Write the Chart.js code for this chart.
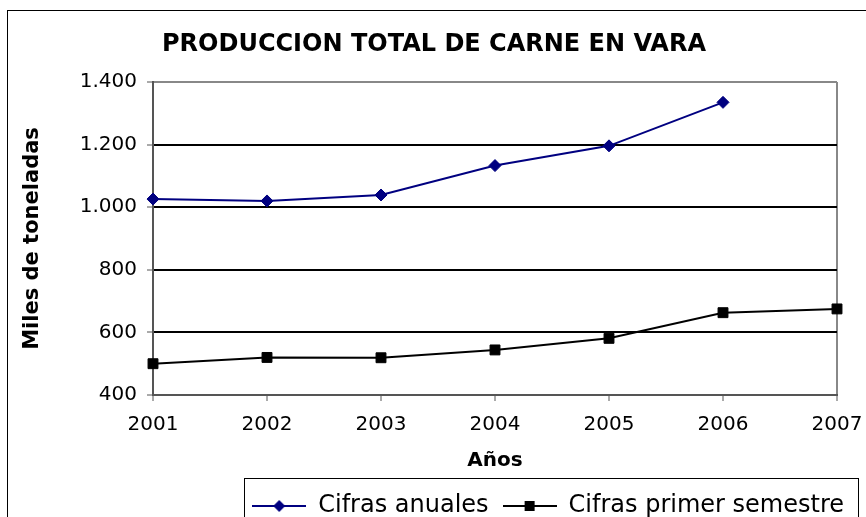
<!DOCTYPE html>
<html>
<head>
<meta charset="utf-8">
<script src="https://cdn.jsdelivr.net/npm/chart.js@4.4.0/dist/chart.umd.min.js"></script>
<style>
  html, body { margin: 0; padding: 0; background: #fff; }
  canvas { display: block; }
</style>
</head>
<body>
<canvas id="carneChart" width="866" height="517"></canvas>
<script>
// data (miles de toneladas)
var years = ['2001', '2002', '2003', '2004', '2005', '2006', '2007'];
var cifrasAnuales = [1026, 1020, 1039, 1133, 1196, 1335, null];
var cifrasSemestre = [500, 520, 519, 544, 581, 663, 675];
var yMin = 400, yMax = 1400, yStep = 200;

Chart.defaults.font.family = '"DejaVu Sans", Verdana, sans-serif';
Chart.defaults.color = '#000';

// legend icons: line with the marker in the middle, like Excel
function legendIcon(color, shape) {
  var c = document.createElement('canvas');
  c.width = 54; c.height = 14;
  var g = c.getContext('2d');
  g.strokeStyle = color;
  g.fillStyle = color;
  g.lineWidth = 2;
  g.beginPath(); g.moveTo(0, 7); g.lineTo(54, 7); g.stroke();
  g.beginPath();
  if (shape === 'diamond') {
    g.moveTo(27, 1); g.lineTo(33, 7); g.lineTo(27, 13); g.lineTo(21, 7);
  } else {
    g.rect(22, 2, 10, 10);
  }
  g.closePath(); g.fill();
  return c;
}
var legendIcons = [legendIcon('#000080', 'diamond'), legendIcon('#000', 'square')];

var framePlugin = {
  id: 'frame',
  beforeDraw: function (chart) {
    var ctx = chart.ctx;
    ctx.save();
    ctx.fillStyle = '#fff';
    ctx.fillRect(0, 0, chart.width, chart.height);
    ctx.strokeStyle = '#000';
    ctx.lineWidth = 1;
    ctx.strokeRect(7.5, 10.5, chart.width + 20, chart.height + 20);
    ctx.restore();
  },
  afterDraw: function (chart) {
    var lg = chart.legend;
    var hb = lg.legendHitBoxes;
    if (!hb || !hb.length) return;
    var ctx = chart.ctx;
    var left = Math.round(hb[0].left - 8);
    var top = Math.round(lg.top - 2);
    ctx.save();
    ctx.strokeStyle = '#000';
    ctx.lineWidth = 1;
    ctx.strokeRect(left + 0.5, top + 0.5, lg.right - left, 100);
    ctx.restore();
  }
};

var ctx = document.getElementById('carneChart').getContext('2d');
var carneChart = new Chart(ctx, {
  type: 'line',
  data: {
    labels: years,
    datasets: [{
      label: 'Cifras anuales',
      data: cifrasAnuales,
      borderColor: '#000080',
      backgroundColor: '#000080',
      borderWidth: 2,
      pointStyle: 'rectRot',
      pointRadius: 6,
      pointHoverRadius: 6,
      pointBorderWidth: 1,
      tension: 0,
      clip: false
    }, {
      label: 'Cifras primer semestre',
      data: cifrasSemestre,
      borderColor: '#000',
      backgroundColor: '#000',
      borderWidth: 2,
      pointStyle: 'rect',
      pointRadius: 7,
      pointHoverRadius: 7,
      pointBorderWidth: 1,
      tension: 0,
      clip: false
    }]
  },
  options: {
    responsive: false,
    animation: false,
    layout: { padding: { left: 10, right: 8, top: 0, bottom: -11 } },
    plugins: {
      title: {
        display: true,
        text: 'PRODUCCION TOTAL DE CARNE EN VARA',
        font: { size: 24, weight: 'bold' },
        color: '#000',
        padding: { top: 30, bottom: 23.2 }
      },
      legend: {
        position: 'bottom',
        align: 'end',
        labels: {
          usePointStyle: true,
          pointStyleWidth: 54,
          padding: 14,
          font: { size: 24 },
          color: '#000',
          generateLabels: function (chart) {
            var items = Chart.defaults.plugins.legend.labels.generateLabels(chart);
            return items.map(function (it, i) {
              it.pointStyle = legendIcons[i];
              return it;
            });
          }
        }
      },
      tooltip: { enabled: false }
    },
    scales: {
      x: {
        offset: false,
        afterFit: function (scale) {
          scale.height = 85;
          scale.paddingLeft = 0;
          scale.paddingRight = 29;
        },
        grid: {
          drawOnChartArea: true,
          color: function (c) { return c.index === years.length - 1 ? '#888' : 'rgba(0,0,0,0)'; },
          lineWidth: 2,
          tickColor: '#555',
          tickWidth: 1,
          tickLength: 6
        },
        border: { color: '#555', width: 2 },
        ticks: { font: { size: 20 }, padding: 12, maxRotation: 0, autoSkip: false },
        title: {
          display: true,
          text: 'Años',
          font: { size: 20, weight: 'bold' },
          padding: { top: 0, bottom: 7 }
        }
      },
      y: {
        min: yMin,
        max: yMax,
        afterFit: function (scale) { scale.width = 143; },
        grid: {
          color: function (c) { return c.tick && c.tick.value === yMax ? '#888' : '#000'; },
          lineWidth: 2,
          tickColor: '#555',
          tickWidth: 1,
          tickLength: 6
        },
        border: { color: '#555', width: 2 },
        ticks: {
          stepSize: yStep,
          font: { size: 20 },
          padding: 10,
          callback: function (v) { return String(v).replace(/\B(?=(\d{3})+(?!\d))/g, '.'); }
        },
        title: {
          display: true,
          text: 'Miles de toneladas',
          font: { size: 21, weight: 'bold' },
          padding: { top: 10, bottom: 0 }
        }
      }
    }
  },
  plugins: [framePlugin]
});
</script>
</body>
</html>
